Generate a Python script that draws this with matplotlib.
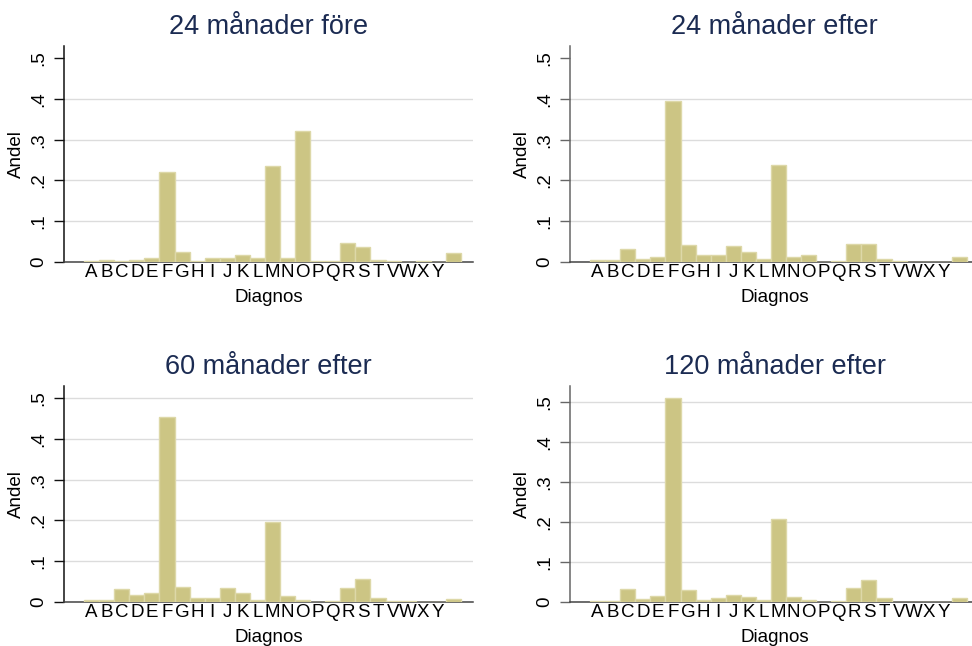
import numpy as np
import matplotlib
matplotlib.use("Agg")
import matplotlib.pyplot as plt

# --- DATA ---
diagnos = ["A", "B", "C", "D", "E", "F", "G", "H", "I", "J", "K", "L", "M",
           "N", "O", "P", "Q", "R", "S", "T", "V", "W", "X", "Y", ""]
titles = ["24 månader före", "24 månader efter", "60 månader efter", "120 månader efter"]

andel_24_fore = [0.002, 0.006, 0.002, 0.006, 0.009, 0.221, 0.025, 0.002, 0.009, 0.011,
                 0.016, 0.011, 0.236, 0.009, 0.322, 0.002, 0.002, 0.047, 0.038, 0.006,
                 0.003, 0.0, 0.003, 0.0, 0.021]
andel_24_efter = [0.006, 0.006, 0.033, 0.008, 0.013, 0.396, 0.042, 0.018, 0.016, 0.040,
                  0.025, 0.008, 0.239, 0.013, 0.016, 0.0, 0.003, 0.045, 0.045, 0.008,
                  0.003, 0.0, 0.0, 0.0, 0.013]
andel_60_efter = [0.005, 0.005, 0.032, 0.018, 0.021, 0.455, 0.036, 0.009, 0.011, 0.034,
                  0.021, 0.004, 0.196, 0.014, 0.004, 0.0, 0.002, 0.034, 0.056, 0.009,
                  0.002, 0.002, 0.0, 0.0, 0.007]
andel_120_efter = [0.002, 0.002, 0.032, 0.008, 0.014, 0.508, 0.030, 0.004, 0.009, 0.018,
                   0.012, 0.004, 0.207, 0.012, 0.004, 0.0, 0.002, 0.035, 0.054, 0.009,
                   0.0, 0.0, 0.0, 0.0, 0.010]
series = [andel_24_fore, andel_24_efter, andel_60_efter, andel_120_efter]
ymax = [0.53, 0.53, 0.53, 0.539]
yticks = [0, 0.1, 0.2, 0.3, 0.4, 0.5]
ytick_labels = ["0", ".1", ".2", ".3", ".4", ".5"]

# --- STYLE ---
plt.rcParams["font.family"] = ["Liberation Sans", "DejaVu Sans"]
BAR = "#ccc584"
BAR_EDGE = "#ddd8a8"
TITLE = "#1b2b52"
GRID = "#dcdcdc"

fig = plt.figure(figsize=(9.72, 6.46), dpi=100)
W, H = 972, 646
# axes boxes in pixels: (left, bottom_of_axis, width, height)
boxes = [(64, 262), (570, 262), (64, 602), (570, 602)]
aw, ah = 409, 216

x = np.arange(1, len(diagnos) + 1)

for i, (l, b) in enumerate(boxes):
    ax = fig.add_axes([l / W, 1 - b / H, aw / W, ah / H])
    ax.bar(x, series[i], width=1.0, color=BAR, edgecolor=BAR_EDGE, linewidth=1.0, zorder=3)
    ax.set_xlim(-0.83, 26.3)
    ax.set_ylim(0, ymax[i])

    ax.set_yticks(yticks)
    ax.set_yticklabels(ytick_labels, rotation=90, va="center", fontsize=13.5)
    ax.set_xticks(x)
    ax.set_xticklabels(diagnos, fontsize=13.5)
    ax.tick_params(axis="x", length=0, pad=1.5)
    ax.tick_params(axis="y", length=7, width=1.0, pad=5)

    ax.yaxis.grid(True, color=GRID, linewidth=1.0, zorder=0)
    ax.set_axisbelow(True)
    if i < 2:
        ax.yaxis.get_gridlines()[-1].set_visible(False)

    for s in ["top", "right"]:
        ax.spines[s].set_visible(False)
    axcol = "#111111" if i % 2 == 0 else "#666666"
    ax.spines["left"].set_color(axcol)
    ax.spines["left"].set_linewidth(1.1)
    ax.spines["bottom"].set_color("#444444")
    ax.spines["bottom"].set_linewidth(1.1)
    ax.tick_params(axis="y", color=axcol)

    ax.set_title(titles[i], fontsize=19.5, color=TITLE, pad=9)
    ax.set_ylabel("Andel", fontsize=13.5)
    ax.yaxis.set_label_coords(-48 / aw, 0.5)
    ax.set_xlabel("Diagnos", fontsize=13.5)
    ax.xaxis.set_label_coords(0.5, -36 / ah)
    ax.xaxis.label.set_verticalalignment("center")
    ax.yaxis.label.set_verticalalignment("center")

fig.savefig("out.png", dpi=100)
